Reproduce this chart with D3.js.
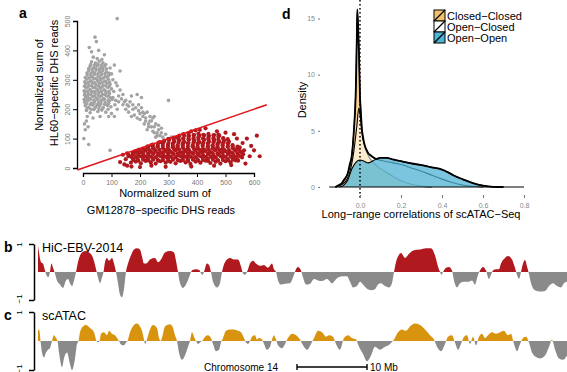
<!DOCTYPE html>
<html>
<head>
<meta charset="utf-8">
<script src="https://cdn.jsdelivr.net/npm/d3@7"></script>
<style>
 body { margin: 0; background: #fff; }
 svg { font-family: "Liberation Sans", Arial, sans-serif; }
</style>
</head>
<body>
<div id="fig"></div>
<script>
// ---- panel a: scatter of normalized DHS read sums (GM12878 x, HL60 y)
var hl60Pts = [
 [12,196],[25,188],[38,199],[52,192],[66,197],[80,190],
 [15,203],[28,200],[42,205],[56,201],[70,204],[88,200],
 [8,212],[20,206],[33,214],[45,208],[58,211],[71,205],[86,213],[98,208],
 [12,218],[25,216],[38,219],[50,215],[63,218],[76,216],[90,219],
 [6,224],[17,228],[29,221],[41,226],[54,222],[66,229],[78,223],[92,227],
 [4,233],[14,232],[26,234],[38,231],[51,233],[63,230],[75,234],[88,231],[102,233],
 [10,241],[22,237],[34,243],[47,238],[59,242],[72,236],[84,244],[96,239],
 [5,248],[16,246],[28,249],[40,245],[53,248],[65,246],[77,249],[90,246],
 [7,256],[19,252],[31,258],[43,253],[56,257],[68,251],[81,256],[93,253],
 [4,263],[15,261],[27,264],[40,260],[52,263],[65,260],[78,263],[91,261],
 [11,272],[24,267],[36,273],[49,268],[61,271],[74,266],[87,274],[100,269],
 [5,278],[17,276],[30,279],[42,275],[55,278],[67,276],[80,279],[92,277],
 [9,286],[21,282],[34,288],[46,283],[58,287],[71,281],[83,288],[95,284],
 [6,293],[18,291],[30,294],[42,290],[55,293],[67,291],[80,294],[93,292],
 [13,302],[26,297],[38,303],[51,298],[63,301],[76,296],[89,302],
 [8,308],[21,306],[33,309],[46,305],[59,308],[71,306],[84,309],
 [15,316],[28,312],[40,318],[53,313],[65,317],[78,311],[90,315],
 [14,323],[27,321],[40,324],[52,320],[64,323],[77,321],[92,322],
 [20,331],[33,327],[46,333],[58,328],[70,332],[83,326],
 [20,338],[32,336],[44,339],[57,336],[69,339],[82,337],
 [25,346],[38,342],[51,348],[63,343],[76,347],
 [27,352],[40,350],[53,353],[66,351],[80,352],
 [30,361],[44,357],[57,363],[70,358],
 [36,377],[50,372],[66,369],
 [120,508],[42,445],[47,430],[22,410],[30,395],[55,400],[75,385],[5,150],[12,160],
 [3,100],[20,80],[8,130],[18,140],[95,60],[130,330],[105,300],[115,290],[130,265],
 [140,250],[100,185],[110,175],[150,230],[300,230],[170,245],[190,250],[205,240],
 [160,210],[175,200],[195,215],[180,180],[210,190],[220,170],[230,150],[240,160],
 [225,130],[250,140],[260,120],[270,110],[280,105],[290,115],[245,125],[255,105],
 [285,95],[300,100],[235,175],[200,165],[215,150],[265,145],[160,190],[140,215],
 [125,225],[120,200],[90,175],[60,175],[35,170],[15,175],[250,175],[275,135],
 [310,105],[320,95],
 [105,240],[115,230],[125,245],[135,235],[145,225],[155,215],[165,225],[175,215],
 [185,205],[195,195],[205,205],[215,185],[225,190],[235,160],[245,170],[255,150],
 [265,130],[275,120],[240,140],[250,120],[260,110],[230,140],[220,160],[210,175],
 [190,170],[200,185],[170,175],[150,200],[112,215],[108,260],[120,280],[100,320],
 [95,340],[110,350]
];
var gm12878Pts = [
 [168,18],[185,22],[203,16],[220,24],[238,19],[255,15],[272,23],[290,18],[307,21],[325,16],
 [342,24],[360,19],[377,14],[395,22],[412,18],[430,25],[447,17],[465,21],[482,15],[500,23],
 [518,19],[535,26],
 [176,27],[194,25],[211,28],[229,26],[246,28],[264,25],[281,27],[299,24],[316,28],[334,26],
 [351,27],[369,24],[386,28],[404,25],[421,27],[439,24],[456,28],[474,25],[491,27],[509,26],
 [526,28],[544,25],
 [175,33],[192,29],[210,35],[228,30],[245,34],[262,28],[280,36],[298,31],[315,33],[332,28],
 [350,35],[368,30],[385,34],[402,29],[420,36],[438,31],[455,33],[472,28],[490,35],[508,30],
 [525,34],[542,29],[558,36],
 [168,39],[186,37],[203,40],[221,38],[238,39],[256,37],[273,40],[291,38],[308,39],[326,37],
 [343,40],[361,38],[378,39],[396,37],[413,40],[431,38],[448,39],[466,37],[483,40],[501,38],
 [518,39],[535,37],[552,40],
 [160,44],[178,47],[195,41],[212,46],[230,42],[247,48],[265,43],[282,45],[300,41],[318,47],
 [335,43],[352,46],[370,41],[388,48],[405,44],[422,42],[440,47],[458,43],[475,46],[492,41],
 [510,48],[528,44],[545,42],[562,47],
 [175,51],[192,50],[210,52],[228,49],[245,51],[262,50],[280,52],[298,49],[315,51],[332,50],
 [350,52],[368,49],[385,51],[402,50],[420,52],[438,49],[455,51],[472,50],[490,52],[508,49],
 [525,51],[542,50],[558,52],
 [185,57],[202,54],[220,59],[238,55],[255,58],[272,53],[290,57],[308,55],[325,60],[342,54],
 [360,57],[378,53],[395,59],[412,55],[430,58],[448,54],[465,60],[482,55],[500,57],[518,53],
 [535,59],[552,56],
 [198,62],[215,63],[232,61],[250,64],[268,62],[285,63],[302,61],[320,64],[338,62],[355,63],
 [372,61],[390,64],[408,62],[425,63],[442,61],[460,64],[478,62],[495,63],[512,61],[530,64],
 [548,62],
 [210,66],[228,70],[245,67],[262,72],[280,68],[298,65],[315,71],[332,67],[350,70],[368,66],
 [385,72],[402,68],[420,65],[438,71],[455,67],[472,70],[490,66],[508,72],[525,68],[542,65],
 [228,74],[245,75],[262,73],[280,76],[298,74],[315,75],[332,73],[350,76],[368,74],[385,75],
 [402,73],[420,76],[438,74],[455,75],[472,73],[490,76],[508,74],[525,75],[542,73],
 [245,80],[262,78],[280,83],[298,79],[315,82],[332,77],[350,81],[368,84],[385,78],[402,82],
 [420,79],[438,83],[455,77],[472,81],[490,79],[508,84],[525,78],
 [265,86],[282,87],[300,85],[318,88],[335,86],[352,87],[370,85],[388,88],[405,86],[422,87],
 [440,85],[458,88],[475,86],[492,87],[510,85],
 [285,92],[302,95],[320,90],[338,94],[355,89],[372,96],[390,92],[408,88],[425,95],[442,91],
 [460,94],[478,89],[495,93],[512,90],
 [300,98],[318,99],[335,97],[352,100],[370,98],[388,99],[405,97],[422,100],[440,98],
 [458,99],[475,97],[492,100],[508,98],
 [318,103],[335,106],[352,101],[370,107],[388,102],[405,105],[422,100],[440,104],[458,101],
 [475,106],[492,102],
 [338,110],[355,111],[372,109],[390,112],[408,110],[425,111],[442,109],[460,112],[478,110],
 [352,115],[370,118],[388,112],[405,117],[422,113],[440,116],[458,111],[475,114],
 [130,20],[145,12],[150,30],[155,8],[170,5],[200,3],[240,8],[290,4],[380,5],[460,8],
 [520,10],[570,15],[585,40],[600,60],[620,40],[610,110],[575,100],[590,75],[560,85],
 [550,70],[565,60],[540,100],[530,115],[500,120],[470,125],[430,135],[410,130],[395,128],
 [380,125],[330,105],[300,98],[270,88],[240,78],[225,72],[195,62],[180,56],[175,45],
 [160,40],[140,45],[155,50]
];
var aXTicks = [0, 100, 200, 300, 400, 500, 600];
var aYTicks = [0, 100, 200, 300, 400, 500];
var cutoffSlope = 1 / 3;   // separating line y = x/3

// ---- panel d: densities of long-range scATAC-seq correlations
var densClosedClosed = [[-0.12,0],[-0.09,0.3],[-0.06,1.2],[-0.04,2.8],[-0.03,5],[-0.02,9],
 [-0.013,15.8],[-0.005,12],[0,8],[0.01,5],[0.02,3.8],[0.035,3.0],[0.05,2.5],[0.08,1.9],
 [0.12,1.4],[0.16,0.95],[0.2,0.55],[0.25,0.25],[0.3,0.08],[0.35,0]];
var densOpenClosed = [[-0.12,0],[-0.08,0.3],[-0.05,1.3],[-0.03,3.2],[-0.015,5.5],[-0.006,7.0],
 [0.003,6.0],[0.012,4.5],[0.025,3.6],[0.04,3.0],[0.06,2.7],[0.08,2.5],[0.12,2.3],[0.16,2.15],
 [0.2,2.0],[0.25,1.7],[0.3,1.4],[0.35,1.05],[0.4,0.7],[0.45,0.4],[0.5,0.18],[0.55,0.06],[0.6,0]];
var densOpenOpen = [[-0.1,0],[-0.08,0.15],[-0.06,0.6],[-0.04,1.6],[-0.02,2.2],[0,2.4],[0.02,2.3],
 [0.04,2.15],[0.06,2.3],[0.08,2.5],[0.1,2.6],[0.13,2.6],[0.16,2.45],[0.2,2.3],[0.25,2.1],
 [0.3,1.95],[0.35,1.75],[0.4,1.55],[0.43,1.3],[0.46,1.0],[0.5,0.7],[0.55,0.35],[0.6,0.12],
 [0.65,0.02],[0.7,0]];
var dGroups = ["Closed\u2212Closed", "Open\u2212Closed", "Open\u2212Open"];
var dColors = ["#f5c06a", "#ffffff", "#4fb3d3"];
var dXTicks = [0, 0.2, 0.4, 0.6, 0.8];
var dYTicks = [0, 5, 10, 15];

// ---- panels b, c: chromosome 14 tracks, [position Mb, value]
var hicTrack = [[20.00,0.95],[20.14,0.7],[20.43,0.35],[20.71,0.3],[21.00,0.05],[21.29,-0.15],
 [21.50,-0.18],[21.71,0],[21.93,0.3],[22.14,0.15],[22.36,0],[22.71,-0.3],[23.14,-0.45],
 [23.57,-0.57],[24.00,-0.3],[24.29,-0.25],[24.57,-0.4],[24.86,-0.5],[25.14,-0.3],[25.43,0],
 [25.71,0.35],[26.14,0.65],[26.71,0.75],[27.29,0.7],[27.86,0.5],[28.29,0.1],[28.57,-0.2],
 [28.86,-0.4],[29.14,-0.2],[29.36,0],[29.57,0.35],[29.86,0.5],[30.14,0.4],[30.57,0.5],
 [30.86,0.3],[31.14,0],[31.43,-0.4],[31.71,-0.8],[32.00,-0.9],[32.29,-0.6],[32.57,0],
 [32.86,0.3],[33.29,0.6],[33.71,0.8],[34.14,0.85],[34.57,0.8],[34.86,0.55],[35.14,0.3],
 [35.43,0.3],[36.00,0.45],[36.71,0.5],[37.14,0.35],[37.57,0.45],[38.14,0.7],[38.86,0.75],
 [39.43,0.7],[39.71,0.4],[40.00,0],[40.29,-0.4],[40.71,-0.57],[41.14,-0.45],[41.57,-0.2],
 [41.86,0],[42.14,0.08],[42.57,0.1],[43.00,0.08],[43.29,-0.05],[43.50,-0.1],[43.71,0],
 [44.14,0.3],[44.43,0.25],[44.71,0],[45.00,-0.35],[45.57,-0.55],[46.00,-0.4],[46.29,0],
 [46.71,0.35],[47.43,0.5],[48.00,0.45],[48.57,0.45],[49.00,0.2],[49.29,-0.05],[49.57,-0.1],
 [49.86,0],[50.29,0.3],[50.71,0.4],[51.14,0.3],[51.71,0.22],[52.29,0.25],[52.86,0.15],
 [53.43,0.3],[53.71,0.1],[54.00,0],[54.29,-0.3],[54.71,-0.45],[55.29,-0.42],[56.00,-0.4],
 [56.57,-0.1],[56.86,0.1],[57.14,0.18],[57.57,0.05],[57.86,-0.2],[58.29,-0.45],[58.86,-0.42],
 [59.43,-0.25],[60.00,-0.3],[60.57,-0.32],[61.29,-0.25],[62.00,-0.4],[62.43,-0.3],[62.86,-0.2],
 [63.57,-0.15],[64.14,-0.15],[64.57,-0.35],[65.00,-0.55],[65.57,-0.5],[66.00,-0.35],
 [66.43,-0.45],[67.00,-0.6],[67.57,-0.65],[68.14,-0.62],[68.57,-0.45],[69.00,-0.4],
 [69.57,-0.5],[70.14,-0.55],[70.57,-0.4],[70.86,0],[71.14,0.35],[71.43,0.55],[71.86,0.68],
 [72.43,0.5],[73.00,0.65],[73.71,0.78],[74.57,0.8],[75.43,0.85],[76.14,0.85],[76.71,0.6],
 [77.14,0.2],[77.43,0],[77.64,-0.1],[77.86,0],[78.29,0.15],[78.71,0.18],[79.14,0.05],
 [79.43,-0.3],[79.86,-0.55],[80.29,-0.4],[80.86,-0.35],[81.43,-0.35],[82.00,-0.3],
 [82.43,-0.45],[82.86,-0.1],[83.14,0.05],[83.57,0.18],[84.00,0.05],[84.43,-0.25],[84.71,-0.1],
 [85.00,0.05],[85.43,0.1],[85.86,0.1],[86.14,0.3],[86.71,0.5],[87.14,0.57],[87.71,0.45],
 [88.14,0.15],[88.43,-0.1],[88.71,-0.25],[89.00,0],[89.29,0.3],[89.57,0.43],[89.86,0.2],
 [90.07,0],[90.43,-0.4],[91.00,-0.65],[91.71,-0.7],[92.43,-0.68],[93.00,-0.5],[93.57,-0.4],
 [94.14,-0.5],[94.71,-0.55],[95.14,-0.4],[95.57,-0.35]];
var atacTrack = [[20.00,0.4],[20.21,0.35],[20.36,0],[20.57,-0.4],[20.86,-0.57],[21.14,-0.4],
 [21.43,-0.3],[21.71,-0.25],[22.00,0],[22.29,0.2],[22.57,0.1],[22.79,0],[23.00,-0.4],
 [23.43,-0.9],[23.71,-0.6],[24.14,-0.4],[24.57,-0.8],[24.86,-1.0],[25.29,-0.6],[25.57,-0.1],
 [25.79,0],[26.00,0.3],[26.43,0.5],[26.86,0.55],[27.43,0.45],[28.00,0.3],[28.36,0],
 [28.57,-0.05],[28.79,0],[29.00,0.25],[29.43,0.3],[29.86,0.2],[30.14,0.35],[30.57,0.25],
 [31.00,0.2],[31.29,0.1],[31.57,0],[31.86,-0.12],[32.29,-0.15],[32.57,-0.05],[32.79,0],
 [33.14,0.3],[33.71,0.55],[34.14,0.6],[34.57,0.5],[34.86,0.35],[35.14,0.05],[35.29,-0.1],
 [35.50,0],[35.86,0.3],[36.43,0.55],[37.00,0.45],[37.29,0.1],[37.50,0],[37.71,0.1],
 [38.14,0.5],[38.86,0.58],[39.29,0.45],[39.57,0.2],[39.86,0],[40.14,-0.4],[40.57,-0.65],
 [41.00,-0.5],[41.43,-0.2],[41.71,0],[42.00,0.3],[42.29,0.15],[42.57,0],[42.86,-0.1],
 [43.14,-0.05],[43.43,0],[43.86,0.15],[44.29,0.2],[44.71,0.1],[45.00,-0.1],[45.43,-0.35],
 [45.86,-0.3],[46.14,-0.05],[46.43,0.1],[46.86,0.35],[47.43,0.4],[48.00,0.4],[48.57,0.35],
 [49.00,0.3],[49.43,0.1],[49.71,-0.05],[50.00,-0.1],[50.29,0],[50.57,0.15],[51.00,0.2],
 [51.29,0.05],[51.57,0.1],[52.00,0.05],[52.29,-0.1],[52.71,-0.3],[53.14,-0.2],[53.43,0.05],
 [53.71,0.2],[54.00,0.05],[54.29,-0.15],[54.86,-0.25],[55.29,-0.1],[55.71,0.1],[56.29,0.25],
 [56.86,0.2],[57.43,0.05],[57.86,-0.15],[58.43,-0.3],[59.00,-0.1],[59.43,0.1],[60.00,0.35],
 [60.57,0.3],[61.14,0.15],[61.57,0.2],[62.14,0.15],[62.57,-0.1],[63.14,-0.3],[63.71,0.1],
 [64.29,0.2],[64.86,0.1],[65.43,0.05],[65.86,-0.2],[66.43,-0.45],[67.00,-0.7],[67.57,-0.5],
 [68.14,-0.2],[68.86,-0.3],[69.57,-0.2],[70.29,-0.1],[70.86,0.05],[71.43,0.3],[72.00,0.4],
 [72.57,0.35],[73.14,0.5],[73.86,0.6],[74.57,0.55],[75.29,0.4],[76.00,0.2],[76.57,0.05],
 [77.00,-0.2],[77.57,-0.35],[78.14,-0.1],[78.57,0.15],[79.14,0.2],[79.57,-0.05],[80.00,-0.3],
 [80.43,-0.1],[80.86,0.15],[81.29,0.2],[81.71,-0.1],[82.14,0.15],[82.57,-0.15],[83.00,0.15],
 [83.43,0.25],[83.86,0.1],[84.29,0.2],[84.86,0.3],[85.43,0.25],[86.00,0.3],[86.57,0.35],
 [87.14,0.2],[87.57,0.25],[88.00,-0.1],[88.43,-0.35],[88.86,-0.1],[89.29,0.1],[89.71,0.15],
 [90.14,-0.05],[90.57,-0.4],[91.14,-0.55],[91.71,-0.6],[92.43,-0.5],[93.00,-0.2],[93.43,0.05],
 [93.86,-0.3],[94.43,-0.6],[95.00,-0.65],[95.57,-0.5]];
var chromRange = [20, 95.57];

var W = 567, H = 372;
var svg = d3.select("#fig").append("svg")
 .attr("width", W).attr("height", H);
svg.append("rect").attr("width", W).attr("height", H).attr("fill", "#fff");

function panelLetter(t, x, y) {
 svg.append("text").attr("x", x).attr("y", y).text(t)
   .style("font-weight", "bold").style("font-size", "14px");
}

// ================= panel a =================
var ax = d3.scaleLinear().domain([0, 600]).range([83, 254]);
var ay = d3.scaleLinear().domain([0, 500]).range([168, 21]);
var ga = svg.append("g");

ga.selectAll("circle.hl").data(hl60Pts).enter().append("circle")
 .attr("cx", function (d) { return ax(d[0]); })
 .attr("cy", function (d) { return ay(d[1]); })
 .attr("r", 1.8).attr("fill", "#a3a3a3");
ga.selectAll("circle.gm").data(gm12878Pts).enter().append("circle")
 .attr("cx", function (d) { return ax(d[0]); })
 .attr("cy", function (d) { return ay(d[1]); })
 .attr("r", 2.1).attr("fill", "#b0191e");

ga.append("line")
 .attr("x1", ax(-20)).attr("y1", ay(-20 * cutoffSlope))
 .attr("x2", ax(645)).attr("y2", ay(645 * cutoffSlope))
 .attr("stroke", "#e3161d").attr("stroke-width", 1.6);

// x axis
var axX = ga.append("g").attr("transform", "translate(0,173)")
 .call(d3.axisBottom(ax).tickValues(aXTicks).tickSize(4).tickPadding(3));
axX.selectAll("text").style("font-size", "7px").attr("fill", "#777");
// y axis, labels parallel to the axis
var axY = ga.append("g").attr("transform", "translate(77,0)")
 .call(d3.axisLeft(ay).tickValues(aYTicks).tickSize(4));
axY.selectAll("text")
 .attr("x", 0).attr("y", -7).attr("dy", 0)
 .attr("transform", "rotate(-90)")
 .style("text-anchor", "middle").style("font-size", "7px").attr("fill", "#777");
ga.selectAll(".domain").attr("stroke-width", 1.3);

ga.append("text").attr("x", 165).attr("y", 197).attr("text-anchor", "middle")
 .style("font-size", "11px").text("Normalized sum of");
ga.append("text").attr("x", 161).attr("y", 214).attr("text-anchor", "middle")
 .style("font-size", "11px").text("GM12878\u2212specific DHS reads");
ga.append("text").attr("transform", "translate(43,85) rotate(-90)").attr("text-anchor", "middle")
 .style("font-size", "11px").text("Normalized sum of");
ga.append("text").attr("transform", "translate(58,83) rotate(-90)").attr("text-anchor", "middle")
 .style("font-size", "11px").text("HL60\u2212specific DHS reads");
panelLetter("a", 19, 18);

// ================= panel d =================
var dx = d3.scaleLinear().domain([0, 0.8]).range([360, 524]);
var dy = d3.scaleLinear().domain([0, 15]).range([187, 18.5]);
var gd = svg.append("g");
var dens = [densClosedClosed, densOpenClosed, densOpenOpen];
var area = d3.area().curve(d3.curveMonotoneX)
 .x(function (d) { return dx(d[0]); })
 .y0(dy(0)).y1(function (d) { return dy(d[1]); });
var line = d3.line().curve(d3.curveMonotoneX)
 .x(function (d) { return dx(d[0]); })
 .y(function (d) { return dy(d[1]); });

dens.forEach(function (s, i) {
 gd.append("path").datum(s).attr("d", area)
   .attr("fill", dColors[i]).attr("fill-opacity", i === 1 ? 0.55 : 0.75);
 gd.append("path").datum(s).attr("d", line)
   .attr("fill", "none").attr("stroke", "#000").attr("stroke-width", 1.1);
});

// outer envelope (max of the three curves) drawn heavier
function valueAt(s, xv) {
 if (xv <= s[0][0] || xv >= s[s.length - 1][0]) return 0;
 var i = d3.bisector(function (d) { return d[0]; }).left(s, xv);
 var a = s[i - 1], b = s[i];
 if (b[0] === xv) return b[1];
 return a[1] + (b[1] - a[1]) * (xv - a[0]) / (b[0] - a[0]);
}
var envX = Array.from(d3.union(d3.merge(dens.map(function (s) {
 return s.map(function (d) { return d[0]; });
})))).sort(d3.ascending);
var envelope = envX.map(function (xv) {
 return [xv, d3.max(dens, function (s) { return valueAt(s, xv); })];
});
gd.append("path").datum(envelope).attr("d", line)
 .attr("fill", "none").attr("stroke", "#000").attr("stroke-width", 1.8);

gd.append("line").attr("x1", dx(-0.15)).attr("x2", dx(0.8))
 .attr("y1", dy(0)).attr("y2", dy(0)).attr("stroke", "#000").attr("stroke-width", 1.2);
gd.append("line").attr("x1", dx(0)).attr("x2", dx(0)).attr("y1", 0).attr("y2", 200)
 .attr("stroke", "#000").attr("stroke-width", 1.5).attr("stroke-dasharray", "1.5,2.5");

var dAxX = gd.append("g").attr("transform", "translate(0,195)")
 .call(d3.axisBottom(dx).tickValues(dXTicks).tickSize(3).tickPadding(5).tickFormat(d3.format(".1f")));
dAxX.select(".domain").remove();
dAxX.selectAll("line").attr("stroke", "#777");
dAxX.selectAll("text").style("font-size", "7px").attr("fill", "#888");
var dAxY = gd.append("g").attr("transform", "translate(320,0)")
 .call(d3.axisLeft(dy).tickValues(dYTicks).tickSize(2).tickPadding(3));
dAxY.select(".domain").remove();
dAxY.selectAll("line").attr("stroke", "#777");
dAxY.selectAll("text").style("font-size", "7px").attr("fill", "#888");

gd.append("text").attr("transform", "translate(306,100) rotate(-90)").attr("text-anchor", "middle")
 .style("font-size", "11px").text("Density");
gd.append("text").attr("x", 421).attr("y", 218).attr("text-anchor", "middle")
 .style("font-size", "11px").text("Long\u2212range correlations of scATAC\u2212Seq");

// legend
var leg = gd.selectAll("g.leg").data(dGroups).enter().append("g")
 .attr("transform", function (d, i) { return "translate(434," + (10 + i * 11) + ")"; });
leg.append("rect").attr("width", 11).attr("height", 11)
 .attr("fill", function (d, i) { return dColors[i]; })
 .attr("stroke", "#000").attr("stroke-width", 1);
leg.append("line").attr("x1", 0).attr("y1", 11).attr("x2", 11).attr("y2", 0)
 .attr("stroke", "#000").attr("stroke-width", 1.3);
leg.append("text").attr("x", 13).attr("y", 9.5).style("font-size", "11px")
 .text(function (d) { return d; });
panelLetter("d", 282, 19);

// ================= panels b, c =================
var tx = d3.scaleLinear().domain(chromRange).range([38, 567]);

function track(data, top, bottom, posColor, label, letter, clipId) {
 var ty = d3.scaleLinear().domain([-1, 1]).range([bottom, top]);
 var g = svg.append("g");
 var defs = g.append("defs");
 defs.append("clipPath").attr("id", clipId + "p").append("rect")
   .attr("x", tx(chromRange[0])).attr("y", 0).attr("width", 600).attr("height", ty(0));
 defs.append("clipPath").attr("id", clipId + "n").append("rect")
   .attr("x", tx(chromRange[0])).attr("y", ty(0)).attr("width", 600).attr("height", 200);
 var tArea = d3.area().curve(d3.curveMonotoneX)
   .x(function (d) { return tx(d[0]); })
   .y0(ty(0)).y1(function (d) { return ty(d[1]); });
 g.append("path").datum(data).attr("d", tArea).attr("fill", posColor)
   .attr("clip-path", "url(#" + clipId + "p)");
 g.append("path").datum(data).attr("d", tArea).attr("fill", "#8a8a8a")
   .attr("clip-path", "url(#" + clipId + "n)");
 // bracket axis
 var ax2 = g.append("g").attr("transform", "translate(34,0)")
   .call(d3.axisLeft(ty).tickValues([-1, 1]).tickSize(5).tickSizeOuter(0));
 ax2.select(".domain").attr("stroke-width", 1.5);
 ax2.selectAll(".tick line").attr("stroke-width", 1.5);
 ax2.selectAll("text")
   .attr("x", function (d) { return d < 0 ? -3 : 0; }).attr("y", -12).attr("dy", 0)
   .attr("transform", "rotate(-90)")
   .style("text-anchor", function (d) { return d < 0 ? "start" : "middle"; })
   .style("font-size", "8px")
   .text(function (d) { return d < 0 ? "\u22121" : "1"; });
 g.append("text").attr("x", 42).attr("y", top + 8).style("font-size", "12.5px").text(label);
 panelLetter(letter, 4, top + 8);
}
track(hicTrack, 244, 300, "#b0191e", "HiC-EBV-2014", "b", "clipB");
track(atacTrack, 312, 370, "#d8930f", "scATAC", "c", "clipC");

// scale bar
svg.append("text").attr("x", 278).attr("y", 371).attr("text-anchor", "end")
 .style("font-size", "10px").text("Chromosome 14");
var sb = svg.append("g").attr("stroke", "#000").attr("stroke-width", 1.4);
sb.append("line").attr("x1", tx(57)).attr("x2", tx(67)).attr("y1", 367).attr("y2", 367);
sb.append("line").attr("x1", tx(57)).attr("x2", tx(57)).attr("y1", 364).attr("y2", 370);
sb.append("line").attr("x1", tx(67)).attr("x2", tx(67)).attr("y1", 364).attr("y2", 370);
svg.append("text").attr("x", tx(67) + 3).attr("y", 371)
 .style("font-size", "10px").text("10 Mb");
</script>
</body>
</html>
